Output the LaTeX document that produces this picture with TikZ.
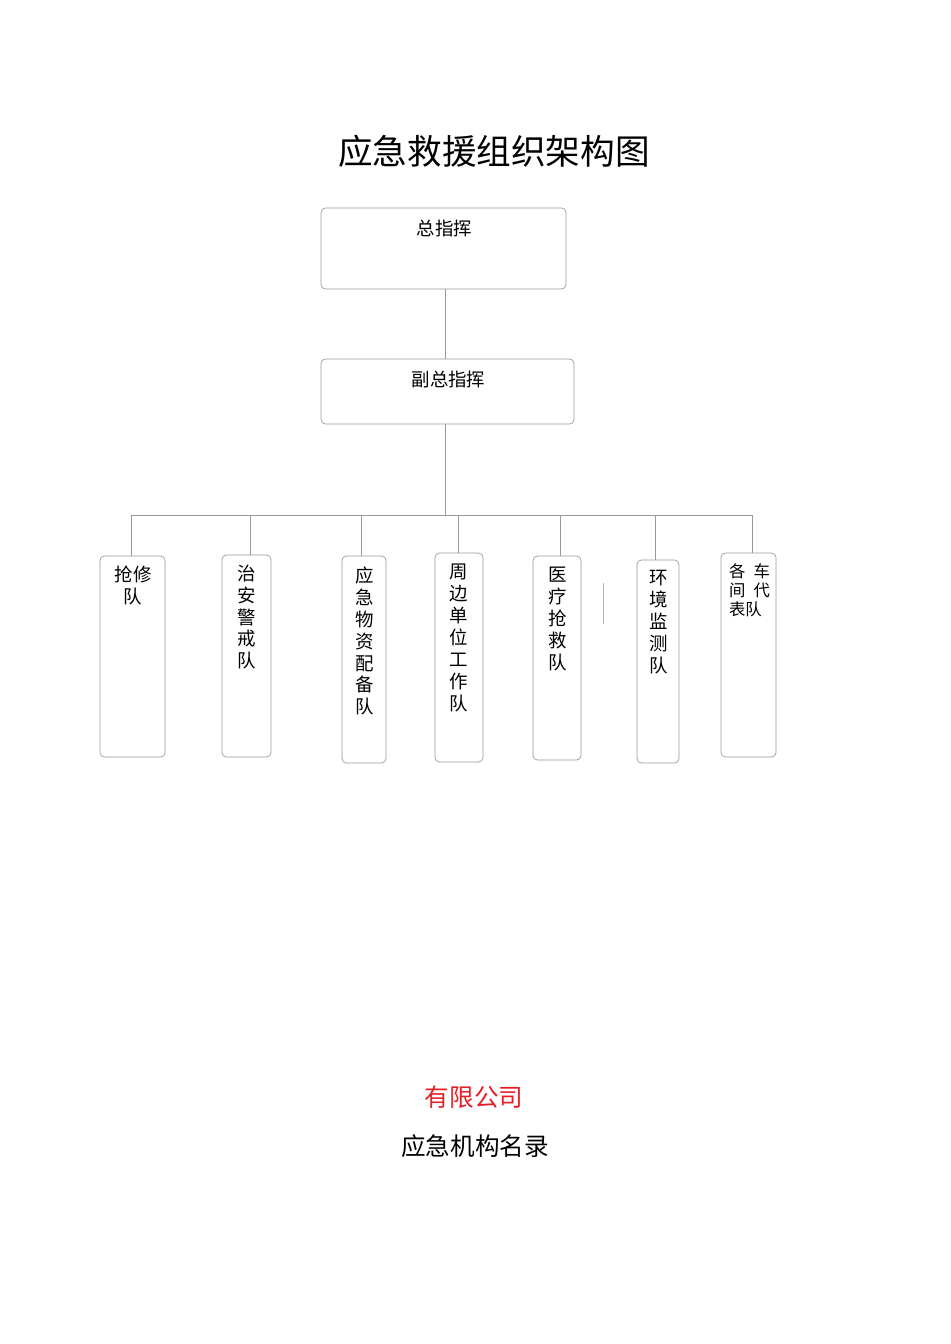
\documentclass[tikz,border=0pt]{standalone}
\usepackage{fontspec}
\setmainfont{Noto Sans CJK SC}
\definecolor{companyred}{RGB}{228,32,38}
\tikzset{
    box/.style={draw=black!40,line width=0.4pt,rounded corners=2.5pt,inner sep=0pt,outer sep=0pt},
    link/.style={draw=black!40,line width=0.4pt},
    boxtext/.style={font=\fontsize{10.5}{12.5}\selectfont,align=center,inner sep=0pt},
    smalltext/.style={font=\fontsize{9.3}{10.8}\selectfont,align=left,inner sep=0pt}
}
\begin{document}
\begin{tikzpicture}[x=0.02cm,y=-0.02cm]
    \useasboundingbox (0,0) rectangle (950,1344);
    % title
    \node[font=\fontsize{19.7}{22}\selectfont] (title) at (494,151) {应急救援组织架构图};
    % command
    \node[box,minimum width=4.9cm,minimum height=1.62cm] (chief) at (443.5,248.5) {};
    \node[boxtext] (chieftext) at (444.5,228) {总指挥};
    \node[box,minimum width=5.06cm,minimum height=1.3cm] (vice) at (447.5,391.5) {};
    \node[boxtext] (vicetext) at (448.5,379) {副总指挥};
    \coordinate (bus) at (445,515);
    \draw[link] (chief.south -| bus) -- (vice.north -| bus);
    \draw[link] (vice.south -| bus) -- (bus);
    % teams
    \foreach \i/\xl/\xr/\yt/\yb/\lx/\tx/\ty/\st/\txt in {
        1/100/165/556/757/131/133/585/boxtext/{抢修\\队},
        2/222/271/555/757/250/247/617/boxtext/{治\\安\\警\\戒\\队},
        3/342/386/556/763/361/365/641/boxtext/{应\\急\\物\\资\\配\\备\\队},
        4/435/483/553/762/458/459/638/boxtext/{周\\边\\单\\位\\工\\作\\队},
        5/533/581/556/760/560/558/619/boxtext/{医\\疗\\抢\\救\\队},
        6/637/679/560/763/655/659/622/boxtext/{环\\境\\监\\测\\队},
        7/721/776/553/757/752/749.5/590/smalltext/{各\hspace{0.5em}车\\间\hspace{0.5em}代\\表队}}
    {
        \node[box,minimum width={(\xr-\xl)*0.02cm},minimum height={(\yb-\yt)*0.02cm}] (t\i) at ({(\xl+\xr)/2},{(\yt+\yb)/2}) {};
        \node[\st] (t\i text) at (\tx,\ty) {\txt};
        \coordinate (b\i) at (\lx,515);
        \draw[link] (b\i) -- (b\i |- t\i.north);
    }
    \draw[link] (b1) -- (b7);
    \draw[black!30,line width=0.4pt] (603,583) -- (603,624);
    % footer
    \node[text=companyred,font=\fontsize{14}{16}\selectfont] (company) at (474,1097) {有限公司};
    \node[font=\fontsize{14}{16}\selectfont] (roster) at (475,1146) {应急机构名录};
\end{tikzpicture}
\end{document}
